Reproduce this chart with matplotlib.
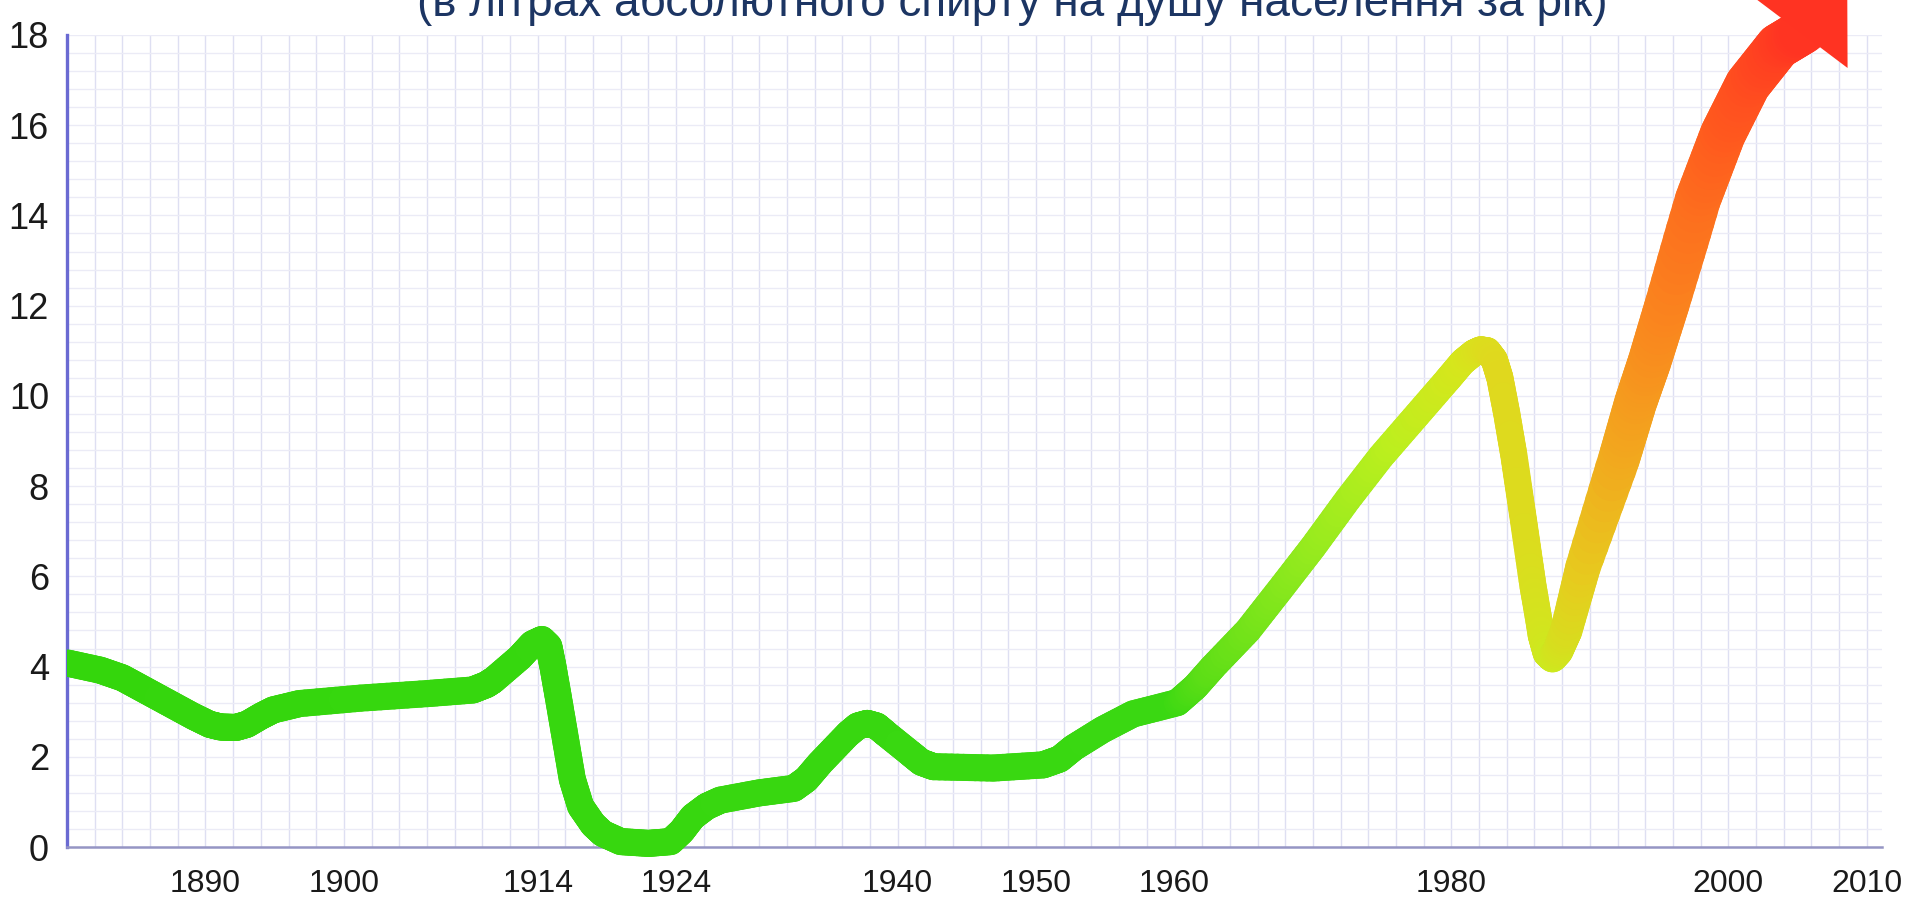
import numpy as np
import matplotlib
matplotlib.use("Agg")
import matplotlib.pyplot as plt
from matplotlib.collections import LineCollection
from matplotlib.colors import to_rgba
from matplotlib.patches import Polygon, Rectangle

plt.rcParams['font.family'] = ['Liberation Sans Narrow', 'Liberation Sans', 'DejaVu Sans']

title = "(в літрах абсолютного спирту на душу населення за рік)"

# споживання алкоголю, л абсолютного спирту на душу населення
years = [1880, 1882.4, 1884, 1885.5, 1887.3, 1889.1, 1890.3, 1891.1, 1892.2, 1893,
         1894, 1894.9, 1896.8, 1901.2, 1906, 1909.3, 1910.3, 1910.8, 1912.7, 1913.6,
         1914.3, 1914.8, 1915.1, 1915.5, 1916.0, 1916.5, 1917.1, 1918.0, 1918.7, 1920,
         1922, 1923.6, 1924.4, 1925.2, 1926.2, 1927.2, 1930, 1932.5, 1933.4, 1934.4,
         1936.4, 1937.1, 1937.8, 1938.5, 1939.2, 1940.9, 1941.7, 1942.6, 1946.9, 1950.5,
         1951.7, 1952.7, 1954.8, 1957, 1960.2, 1961.5, 1962.8, 1965.3, 1967.6, 1970,
         1972.5, 1974.9, 1977.3, 1979.7, 1980.8, 1981.6, 1982.1, 1982.6, 1983.1, 1983.5,
         1984.0, 1984.5, 1985.2, 1985.9, 1986.5, 1986.9, 1987.3, 1987.7, 1988.3, 1989.5,
         1992.1, 1993.3, 1994.3, 1995.6, 1997.8, 1999.6, 2001.4, 2003.6, 2005.5]
litres = [4.08, 3.92, 3.75, 3.5, 3.2, 2.9, 2.72, 2.66, 2.65, 2.72,
          2.9, 3.04, 3.18, 3.3, 3.4, 3.48, 3.6, 3.7, 4.2, 4.5,
          4.6, 4.45, 4.0, 3.3, 2.4, 1.5, 0.9, 0.5, 0.3, 0.12,
          0.08, 0.12, 0.35, 0.67, 0.9, 1.04, 1.2, 1.3, 1.5, 1.86,
          2.5, 2.68, 2.74, 2.68, 2.5, 2.08, 1.88, 1.78, 1.75, 1.82,
          1.95, 2.2, 2.6, 2.95, 3.2, 3.55, 4.0, 4.8, 5.7, 6.65,
          7.7, 8.65, 9.5, 10.35, 10.75, 10.95, 11.02, 11.0, 10.8, 10.4,
          9.6, 8.7, 7.25, 5.77, 4.7, 4.3, 4.2, 4.35, 4.8, 6.2,
          8.6, 9.85, 10.75, 12.05, 14.35, 15.8, 16.9, 17.75, 18.1]

tick_years = [1890, 1900, 1914, 1924, 1940, 1950, 1960, 1980, 2000, 2010]
y_ticks = [0, 2, 4, 6, 8, 10, 12, 14, 16, 18]

# кольори лінії по роках
col_years = [1880, 1960, 1962.5, 1970, 1976, 1981, 1983.5, 1985.5, 1987.3, 1989.5,
             1992.5, 1995.5, 2000, 2005.5]
col_hex = ['#34d60c', '#3ad812', '#5cde16', '#94ea1e', '#bcef1e', '#d6e61c', '#e0d81e',
           '#dcdc1e', '#cdea1e', '#e6cc1e', '#f2a81e', '#fa861e', '#ff5a1e', '#ff3322']
col_rgba = np.array([to_rgba(c) for c in col_hex])

fig = plt.figure(figsize=(19.2, 9.09), dpi=100)
ax = fig.add_axes([0.0349, 0.0682, 0.9453, 0.8933])
ax.set_xlim(1880, 2011.1)
ax.set_ylim(0, 18)

# тонка сітка як на папері в клітинку
for gx in np.arange(1882, 2011, 2):
    ax.axvline(gx, color='#dedff2', lw=1.0, zorder=0)
for gy in np.arange(0.4, 18.01, 0.4):
    ax.axhline(gy, color='#ebebf6', lw=1.0, zorder=0)

for s in ['top', 'right']:
    ax.spines[s].set_visible(False)
ax.spines['left'].set_color('#6a6ad2')
ax.spines['left'].set_linewidth(2.4)
ax.spines['bottom'].set_color('#9595c4')
ax.spines['bottom'].set_linewidth(1.8)

ax.set_xticks(tick_years)
ax.set_xticklabels([str(t) for t in tick_years], fontsize=23)
ax.set_yticks(y_ticks)
ax.set_yticklabels([str(t) for t in y_ticks], fontsize=26)
ax.tick_params(axis='x', length=0, pad=16, colors='#1a1a1a')
ax.tick_params(axis='y', length=0, pad=13, colors='#1a1a1a')


def col(yr):
    return tuple(np.interp(yr, col_years, col_rgba[:, i]) for i in range(4))


def width(yr):
    # товщина лінії (pt) росте на останньому відрізку
    return float(np.interp(yr, [1986.3, 1992, 1997], [19.5, 30, 33]))


segs, cols, lws = [], [], []
n_sub = 10
for i in range(len(years) - 1):
    x0, y0, x1, y1 = years[i], litres[i], years[i + 1], litres[i + 1]
    for k in range(n_sub):
        a, b = k / n_sub, (k + 1) / n_sub
        xa, ya = x0 + (x1 - x0) * a, y0 + (y1 - y0) * a
        xb, yb = x0 + (x1 - x0) * b, y0 + (y1 - y0) * b
        segs.append([(xa, ya), (xb, yb)])
        xm = (xa + xb) / 2
        cols.append(col(xm))
        lws.append(width(xm))

lc = LineCollection(segs, colors=cols, linewidths=lws, capstyle='round',
                    joinstyle='round', zorder=3)
ax.add_collection(lc)
# обрізаємо лише зліва (по осі), вгору лінія може виходити
clip = Rectangle((1880, -5), 200, 40, transform=ax.transData)
lc.set_clip_path(clip)

# наконечник стрілки (у пікселях)
p_end = ax.transData.transform((years[-1], litres[-1]))
ang = np.deg2rad(53)
d = np.array([np.cos(ang), np.sin(ang)])
nrm = np.array([-d[1], d[0]])
head_len, head_half = 75, 57
base = p_end - d * 4
tip = base + d * head_len
pts = np.array([base + nrm * head_half, tip, base - nrm * head_half])
pts = ax.transData.inverted().transform(pts)
ax.add_patch(Polygon(pts, closed=True, facecolor='#ff3322', edgecolor='none',
                     zorder=4, clip_on=False))

fig.text(0.527, 0.982, title, ha='center', va='baseline', fontsize=33, color='#1c3563')

fig.savefig('out.png', dpi=100, facecolor='white')
